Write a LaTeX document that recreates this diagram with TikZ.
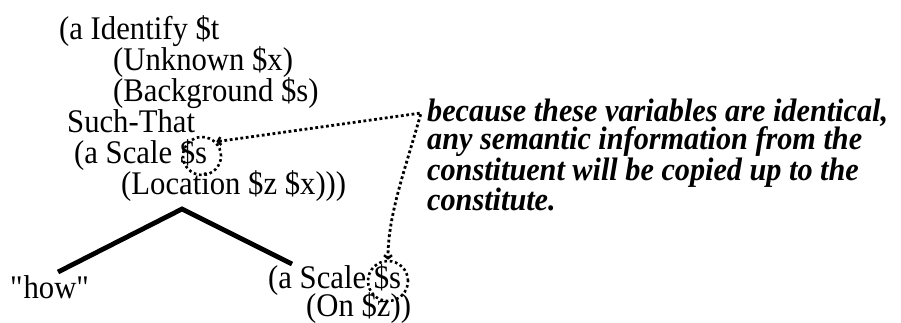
\documentclass[tikz,border=0pt]{standalone}
\usepackage{fontspec}
\setmainfont[FakeStretch=0.93]{Liberation Serif}
\usetikzlibrary{arrows.meta}
\begin{document}
\begin{tikzpicture}[x=1pt,y=-1pt,
  txt/.style={anchor=base west,inner sep=0pt,font=\fontsize{33}{31}\selectfont},
  note/.style={anchor=north west,inner sep=0pt,align=left,font=\fontsize{32.5}{28}\selectfont\bfseries\itshape},
  ring/.style={circle,draw,dash pattern=on 2.6pt off 2.8pt,line width=2.6pt,inner sep=0pt},
  link/.style={line width=2.8pt,dash pattern=on 2.8pt off 2.6pt},
  branch/.style={line width=4.8pt}]
\useasboundingbox (0,0) rectangle (901,322);
\node[txt] (l1) at (59,39) {(a Identify \$t};
\node[txt] (l2) at (113,70) {(Unknown \$x)};
\node[txt] (l3) at (113,101) {(Background \$s)};
\node[txt] (l4) at (67,132) {Such-That};
\node[txt] (l5) at (74,163) {(a Scale \$s};
\node[txt] (l6) at (121,194) {(Location \$z \$x)))};
\node[txt] (how) at (10,298) {\textquotedbl how\textquotedbl};
\node[txt] (r1) at (268,288) {(a Scale \$s};
\node[txt] (r2) at (306,316) {(On \$z))};
\node[note] (note) at (427,99) {because these variables are identical,\\any semantic information from the\\constituent will be copied up to the\\constitute.};
\node[ring,minimum size=38pt] (c1) at (202,156) {};
\node[ring,minimum size=40pt] (c2) at (388,281) {};
\coordinate (apex) at (182,209);
\coordinate (lleg) at (58,272);
\coordinate (rleg) at (292,264);
\coordinate (corner) at (421,113);
\draw[branch] (lleg) -- (apex) -- (rleg);
\draw[link,{Straight Barb[length=3pt,width=8pt,line width=2.4pt]}-{Straight Barb[length=3pt,width=8pt,line width=2.4pt]}]
  (c1.north east) -- (corner) .. controls (405,170) and (388,215) .. (c2.north);
\end{tikzpicture}
\end{document}
